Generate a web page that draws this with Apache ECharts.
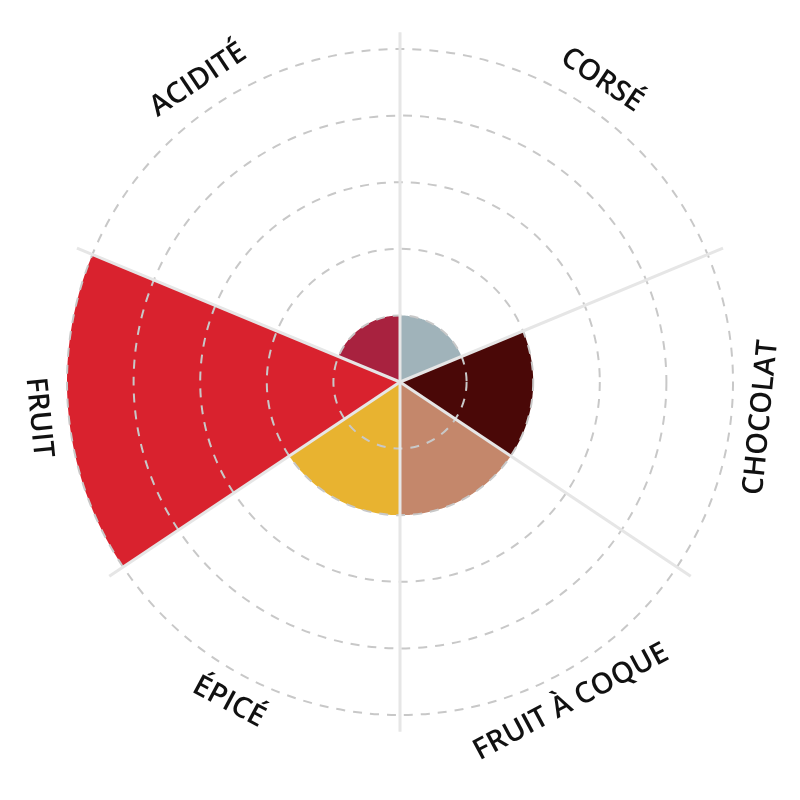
<!DOCTYPE html>
<html><head><meta charset="utf-8">
<script src="https://cdn.jsdelivr.net/npm/echarts@6/dist/echarts.min.js"></script>
<style>html,body{margin:0;padding:0;background:#fff}#c{width:800px;height:800px}</style>
</head><body><div id="c"></div>
<script>
// ---- data (clockwise from top) ----
const categories = ['CORSÉ', 'CHOCOLAT', 'FRUIT À COQUE', 'ÉPICÉ', 'FRUIT', 'ACIDITÉ'];
const values = [1, 2, 2, 2, 5, 1];
const spans = [67.5, 56.25, 56.25, 56.25, 56.25, 67.5]; // angular width of each sector (deg)
const colors = ['#a0b3ba', '#4a0807', '#c4876b', '#e8b330', '#d9222e', '#a8223f'];
const radiusMax = 5;

// ---- derived ----
const starts = [];
let acc = 0;
spans.forEach(s => { starts.push(acc); acc += s; });

const LABEL_R = 5.45;
const SPOKE_R = 5.25;

const chart = echarts.init(document.getElementById('c'), null, {renderer: 'canvas'});
chart.setOption({
  animation: false,
  backgroundColor: '#fff',
  polar: { center: [400, 382], radius: 333 },
  angleAxis: {
    type: 'value', min: 0, max: 360, startAngle: 90, clockwise: true,
    axisLine: {show: false}, axisTick: {show: false}, axisLabel: {show: false},
    splitLine: {show: false}
  },
  radiusAxis: {
    type: 'value', min: 0, max: radiusMax, interval: 1, z: 3,
    axisLine: {show: false}, axisTick: {show: false}, axisLabel: {show: false},
    splitLine: {show: true, lineStyle: {color: '#c8c8c8', width: 2, type: [9, 8]}}
  },
  series: [
    {
      type: 'custom', coordinateSystem: 'polar', z: 2,
      data: values.map((v, i) => [v, starts[i] + spans[i] / 2]),
      renderItem: function (params, api) {
        const i = params.dataIndex;
        const r = api.value(0);
        const a0 = starts[i], a1 = starts[i] + spans[i];
        const pts = [api.coord([0, a0])];
        const n = Math.ceil(spans[i] * 2);
        for (let k = 0; k <= n; k++) {
          pts.push(api.coord([r, a0 + (a1 - a0) * k / n]));
        }
        const c = api.coord([0, 0]);
        const mid = (a0 + a1) / 2;
        const lp = api.coord([LABEL_R, mid]);
        const theta = Math.atan2(-(lp[1] - c[1]), lp[0] - c[0]);
        const rot = Math.sin(theta) >= 0 ? theta - Math.PI / 2 : theta + Math.PI / 2;
        return {
          type: 'group',
          children: [
            {type: 'polygon', shape: {points: pts}, style: {fill: colors[i]}},
            {type: 'text', x: lp[0], y: lp[1], rotation: rot,
             style: {text: categories[i], font: '600 29px "Open Sans"', fill: '#111',
                     align: 'center', verticalAlign: 'middle'}}
          ]
        };
      }
    },
    {
      type: 'custom', coordinateSystem: 'polar', z: 5, silent: true,
      data: starts.map(a => [0, a]),
      renderItem: function (params, api) {
        const a = api.value(1);
        const p0 = api.coord([0, a]);
        const p1 = api.coord([SPOKE_R, a]);
        return {type: 'line', shape: {x1: p0[0], y1: p0[1], x2: p1[0], y2: p1[1]},
                style: {stroke: '#e6e6e6', lineWidth: 3}};
      }
    }
  ]
});
</script></body></html>
